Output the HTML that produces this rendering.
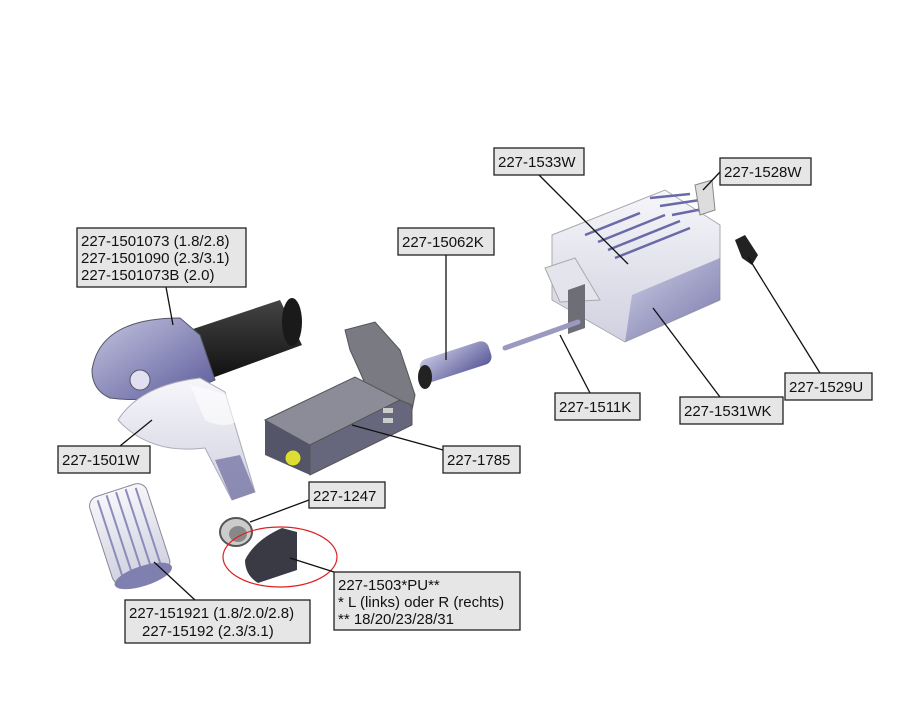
<!DOCTYPE html>
<html><head><meta charset="utf-8"><style>
html,body{margin:0;padding:0;background:#fff;}
svg{display:block}
text{font-family:"Liberation Sans",sans-serif;font-size:15px;fill:#111}
.b{fill:#e6e6e6;stroke:#222;stroke-width:1.3}
.l{stroke:#111;stroke-width:1.3;fill:none}
</style></head><body>
<svg width="911" height="721" viewBox="0 0 911 721">
<defs>
<linearGradient id="gw" x1="0" y1="0" x2="0" y2="1"><stop offset="0" stop-color="#f6f6fa"/><stop offset="1" stop-color="#d0d0e0"/></linearGradient>
<linearGradient id="gb" x1="0" y1="0" x2="1" y2="1"><stop offset="0" stop-color="#c4c4e0"/><stop offset="1" stop-color="#5a5a9a"/></linearGradient>
<linearGradient id="gk" x1="0" y1="0" x2="0" y2="1"><stop offset="0" stop-color="#444"/><stop offset="1" stop-color="#111"/></linearGradient>
</defs>

<!-- Control box -->
<polygon points="552,235 665,190 720,225 720,300 625,342 552,300" fill="url(#gw)" stroke="#aaa"/>
<polygon points="632,295 720,258 720,300 625,342" fill="url(#gb)" opacity="0.75"/>
<g stroke="#6a6aa8" stroke-width="2.5">
<line x1="585" y1="235" x2="640" y2="213"/><line x1="598" y1="242" x2="665" y2="215"/>
<line x1="608" y1="250" x2="680" y2="221"/><line x1="615" y1="258" x2="690" y2="228"/>
<line x1="650" y1="198" x2="690" y2="194"/><line x1="660" y1="206" x2="700" y2="200"/>
<line x1="672" y1="215" x2="708" y2="208"/>
</g>
<polygon points="545,268 575,258 600,300 560,302" fill="#e4e4ec" stroke="#aaa"/>
<polygon points="568,290 585,284 585,328 568,334" fill="#6e6e76"/>
<polygon points="695,185 712,180 715,210 700,215" fill="#ddd" stroke="#888"/>
<polygon points="735,240 745,235 758,255 752,265 742,258" fill="#222"/>
<!-- rod -->
<line x1="505" y1="348" x2="578" y2="322" stroke="#9a9ac0" stroke-width="5" stroke-linecap="round"/>
<!-- connector -->
<rect x="420" y="350" width="72" height="24" rx="8" fill="url(#gb)" transform="rotate(-18 455 363)"/>
<ellipse cx="425" cy="377" rx="7" ry="12" fill="#222"/>
<!-- gray actuator block -->
<polygon points="345,330 375,322 400,350 415,395 410,420 372,400 360,372 350,350" fill="#7a7a82" stroke="#555"/>
<polygon points="265,420 355,377 400,400 310,445" fill="#8c8c98" stroke="#555"/>
<polygon points="265,420 310,445 310,475 265,455" fill="#55556a"/>
<polygon points="310,445 400,400 412,405 412,425 310,475" fill="#66667c" stroke="#555"/>
<circle cx="293" cy="458" r="8" fill="#dd3" stroke="#555"/>
<rect x="383" y="408" width="10" height="5" fill="#ccc"/><rect x="383" y="418" width="10" height="5" fill="#ccc"/>
<!-- motor -->
<polygon points="190,330 280,300 302,345 212,378" fill="url(#gk)"/>
<ellipse cx="292" cy="322" rx="10" ry="24" fill="#1a1a1a"/>
<path d="M92,370 Q100,318 180,318 L200,335 L215,380 Q160,405 110,398 Q92,390 92,370 Z" fill="url(#gb)" stroke="#556"/>
<ellipse cx="140" cy="380" rx="10" ry="10" fill="#e0e0f0" stroke="#556"/>
<!-- white bracket -->
<path d="M118,420 Q140,385 200,378 L225,392 L255,492 L232,500 L205,448 Q150,455 118,420 Z" fill="url(#gw)" stroke="#aab"/>
<path d="M190,385 L230,395 L240,420 Q225,430 205,420 Z" fill="#fff" opacity="0.6"/>
<path d="M215,460 L240,455 L255,492 L232,500 Z" fill="#7878a8" opacity="0.8"/>
<!-- gear cylinder -->
<g transform="rotate(-18 130 535)">
<rect x="100" y="488" width="60" height="92" rx="10" fill="url(#gw)" stroke="#889"/>
<g stroke="#8c8cb8" stroke-width="2"><line x1="110" y1="492" x2="110" y2="575"/><line x1="120" y1="490" x2="120" y2="578"/><line x1="130" y1="490" x2="130" y2="578"/><line x1="140" y1="490" x2="140" y2="578"/><line x1="150" y1="492" x2="150" y2="575"/></g>
<ellipse cx="130" cy="578" rx="30" ry="10" fill="#8080b0"/>
</g>
<!-- bearing -->
<ellipse cx="236" cy="532" rx="16" ry="14" fill="#ccc" stroke="#555" stroke-width="2"/>
<ellipse cx="238" cy="534" rx="9" ry="8" fill="#888"/>
<!-- bracket plate -->
<path d="M245,560 Q255,540 282,528 L297,532 L297,570 L258,583 Q245,575 245,560 Z" fill="#3a3a44"/>
<ellipse cx="280" cy="557" rx="57" ry="30" fill="none" stroke="#e02020" stroke-width="1.2"/>

<!-- leader lines -->
<line class="l" x1="539" y1="175" x2="628" y2="264"/>
<line class="l" x1="720" y1="172" x2="703" y2="190"/>
<line class="l" x1="166" y1="287" x2="173" y2="325"/>
<line class="l" x1="446" y1="255" x2="446" y2="360"/>
<line class="l" x1="820" y1="373" x2="748" y2="257"/>
<line class="l" x1="590" y1="393" x2="560" y2="335"/>
<line class="l" x1="720" y1="397" x2="653" y2="308"/>
<line class="l" x1="120" y1="446" x2="152" y2="420"/>
<line class="l" x1="443" y1="450" x2="352" y2="425"/>
<line class="l" x1="309" y1="500" x2="250" y2="522"/>
<line class="l" x1="334" y1="572" x2="290" y2="558"/>
<line class="l" x1="195" y1="600" x2="154" y2="562"/>

<!-- labels -->
<rect class="b" x="494" y="148" width="90" height="27"/><text x="498" y="167">227-1533W</text>
<rect class="b" x="720" y="158" width="91" height="27"/><text x="724" y="177">227-1528W</text>
<rect class="b" x="77" y="228" width="169" height="59"/>
<text x="81" y="246">227-1501073 (1.8/2.8)</text><text x="81" y="263">227-1501090 (2.3/3.1)</text><text x="81" y="280">227-1501073B (2.0)</text>
<rect class="b" x="398" y="228" width="96" height="27"/><text x="402" y="247">227-15062K</text>
<rect class="b" x="785" y="373" width="87" height="27"/><text x="789" y="392">227-1529U</text>
<rect class="b" x="555" y="393" width="85" height="27"/><text x="559" y="412">227-1511K</text>
<rect class="b" x="680" y="397" width="103" height="27"/><text x="684" y="416">227-1531WK</text>
<rect class="b" x="58" y="446" width="92" height="27"/><text x="62" y="465">227-1501W</text>
<rect class="b" x="443" y="446" width="77" height="27"/><text x="447" y="465">227-1785</text>
<rect class="b" x="309" y="482" width="76" height="26"/><text x="313" y="501">227-1247</text>
<rect class="b" x="334" y="572" width="186" height="58"/>
<text x="338" y="590">227-1503*PU**</text><text x="338" y="607">* L (links) oder R (rechts)</text><text x="338" y="624">** 18/20/23/28/31</text>
<rect class="b" x="125" y="600" width="185" height="43"/>
<text x="129" y="618">227-151921 (1.8/2.0/2.8)</text><text x="142" y="636">227-15192 (2.3/3.1)</text>
</svg>
</body></html>
